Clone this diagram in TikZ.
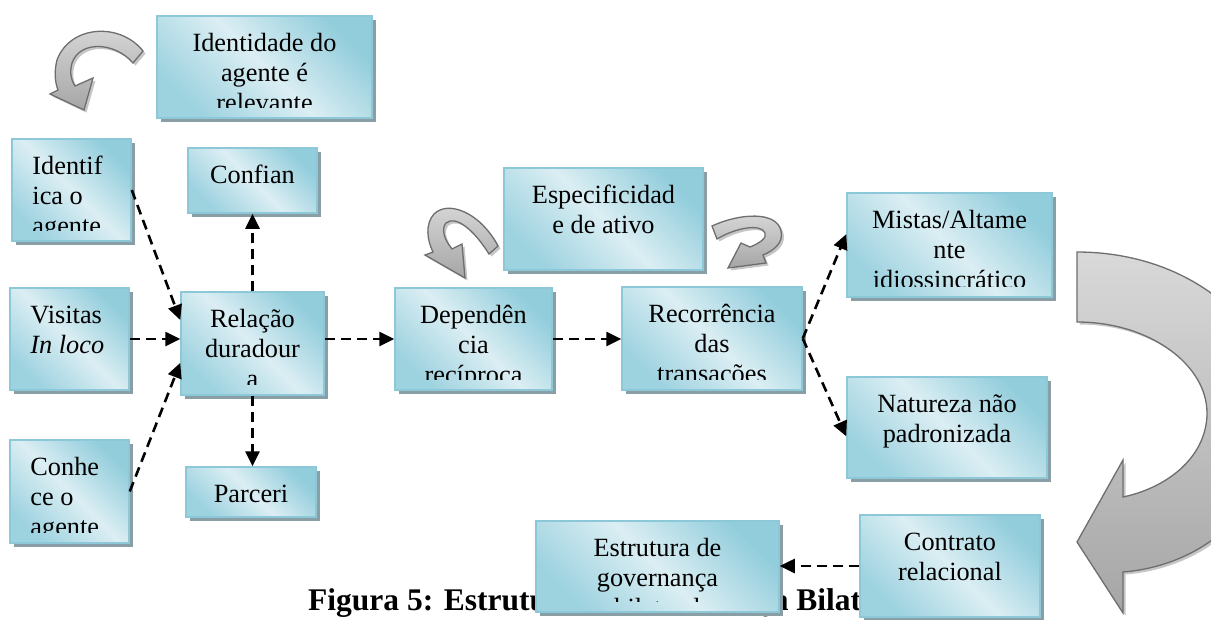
\documentclass[tikz,border=0pt]{standalone}
\usepackage{fontspec}
\setmainfont{Liberation Serif}
\usepackage{xcolor}
\usepackage{tikz}
\usetikzlibrary{arrows.meta, positioning, shadows}
\definecolor{boxdark}{RGB}{146, 205, 220}
\definecolor{boxlight}{RGB}{219, 238, 243}
\definecolor{boxedge}{RGB}{140, 200, 216}
\definecolor{boxshadow}{RGB}{138, 158, 166}
\definecolor{arrowedge}{RGB}{110, 110, 110}
% box with clipped text (name, x, y, width, height, text style, text)
\newcommand{\infobox}[7]{%
  \node[cbox, minimum width=#4pt, minimum height=#5pt] (#1) at (#2,#3) {};
  \begin{scope}
    \clip (#1.north west) rectangle ([yshift=11pt]#1.south east);
    \node[boxtext, #6=#1] (#1-t) {\strut #7};
  \end{scope}}

\begin{document}
\begin{tikzpicture}[x=1pt, y=-1pt,
  cbox/.style={rectangle, draw=boxedge, line width=1.5pt, shading=axis,
    top color=boxdark, bottom color=boxdark!85!boxlight, middle color=boxlight,
    shading angle=-45, inner sep=0pt,
    drop shadow={shadow xshift=4pt, shadow yshift=-4pt, fill=boxshadow, opacity=1}},
  boxtext/.style={font=\fontsize{26.3}{30}\selectfont, inner sep=0pt, align=center},
  ctext/.style={at={(#1.north)}, anchor=north, yshift=-15pt},
  ltext/.style={at={(#1.north west)}, anchor=north west, xshift=21pt, yshift=-15pt, align=left},
  conn/.style={line width=2.6pt, dash pattern=on 10pt off 6pt, -{Triangle[length=15pt, width=14pt]}},
  bigarrow/.style={draw=arrowedge, line width=1.3pt, top color=gray!30, bottom color=gray!70,
    drop shadow={shadow xshift=2.5pt, shadow yshift=-2.5pt, fill=gray!45, opacity=1}}
]
\path[use as bounding box, fill=white] (0,0) rectangle (1211,619);

% caption (partly hidden behind the boxes)
\node[font=\bfseries\fontsize{31.5}{36}\selectfont, anchor=base west, inner sep=0pt] (cap) at (308,610) {Figura 5: Estrutura de Governança Bilateral};

% left column
\infobox{ident}{264.5}{67}{215}{102}{ctext}{Identidade do\\agente é\\relevante}
\infobox{identif}{71.5}{190}{119}{102}{ltext}{Identif\\ica o\\agente}
\infobox{visitas}{69.5}{339}{119}{102}{ltext}{Visitas\\\textit{In loco}}
\infobox{conhece}{69.5}{491.5}{119}{103}{ltext}{Conhe\\ce o\\agente}
\infobox{confian}{252.5}{180.5}{129}{65}{ctext}{Confian}
\infobox{relacao}{252.5}{343.5}{143}{103}{ctext}{Relação\\duradour\\a}
\infobox{parceri}{251}{492}{130}{50}{ctext}{Parceri}

% middle
\infobox{espec}{603.5}{219}{199}{102}{ctext}{Especificidad\\e de ativo}
\infobox{depend}{473.5}{339}{157}{102}{ctext}{Dependên\\cia\\recíproca}
\infobox{recorr}{712}{338.5}{180}{103}{ctext}{Recorrência\\das\\transações}

% right
\infobox{mistas}{949.5}{245}{205}{104}{ctext}{Mistas/Altame\\nte\\idiossincrático}
\infobox{natur}{947}{427.5}{200}{101}{ctext}{Natureza não\\padronizada}
\infobox{contrato}{950}{566}{180}{102}{ctext}{Contrato\\relacional}
\infobox{estrut}{657.5}{566.5}{243}{91}{ctext}{Estrutura de\\governança\\bilateral}

% dashed links
\draw[conn] (identif.east) -- (relacao.162);
\draw[conn] (visitas.east) -- (visitas.east -| relacao.west);
\draw[conn] (conhece.east) -- (relacao.195);
\draw[conn] (relacao.north) -- (confian.south);
\draw[conn] (relacao.south) -- (relacao.south |- parceri.north);
\draw[conn] (depend.west -| relacao.east) -- (depend.west);
\draw[conn] (depend.east) -- (depend.east -| recorr.west);
\draw[conn] (recorr.east) -- (mistas.174);
\draw[conn] (recorr.east) -- (natur.185);
\draw[conn] (contrato.west) -- (contrato.west -| estrut.east);

% curved block arrows
\path[bigarrow] (143,51) .. controls (120,22) and (70,25) .. (57,60)
  .. controls (54,72) and (55,82) .. (58,90) -- (50,94) -- (84,110) -- (93,78) -- (75,86)
  .. controls (70,78) and (70,70) .. (72,63) .. controls (80,40) and (115,42) .. (133,63) -- cycle;
\path[bigarrow] (498,246) .. controls (480,212) and (448,200) .. (434,214)
  .. controls (425,224) and (427,240) .. (433,252) -- (425,255) -- (465,278) -- (462,244) -- (452,249)
  .. controls (444,239) and (441,229) .. (446,223) .. controls (456,215) and (474,230) .. (489,254) -- cycle;
\path[bigarrow] (712,226) .. controls (740,213) and (777,211) .. (781,231)
  .. controls (784,243) and (773,251) .. (763,255) -- (766,263) -- (728,268) -- (741,243) -- (750,247)
  .. controls (760,243) and (767,238) .. (765,233) .. controls (761,223) and (735,228) .. (717,239) -- cycle;
\begin{scope}
  \clip (0,0) rectangle (1211,619);
  \path[bigarrow] (1077,252) .. controls (1190,252) and (1277,325) .. (1277,413)
    .. controls (1277,500) and (1210,565) .. (1123,572) -- (1123,613) -- (1077,542) -- (1123,460) -- (1123,497)
    .. controls (1170,487) and (1207,455) .. (1207,413) .. controls (1207,365) and (1150,322) .. (1077,322) -- cycle;
\end{scope}
\end{tikzpicture}
\end{document}
